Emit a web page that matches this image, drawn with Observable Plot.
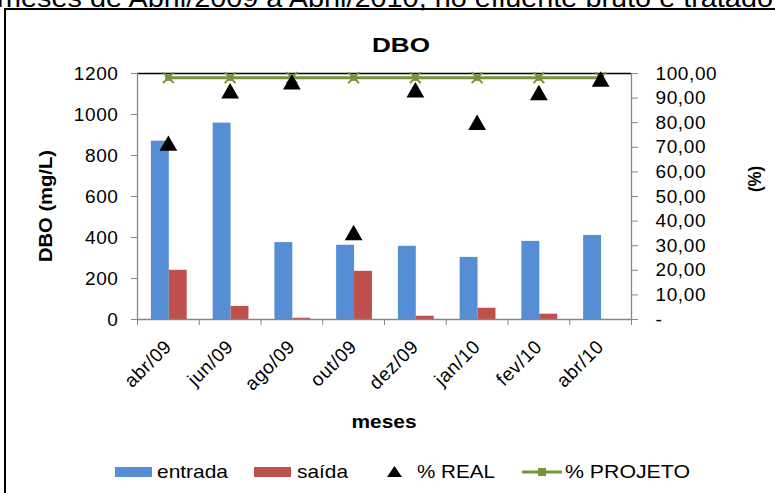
<!DOCTYPE html>
<html>
<head>
<meta charset="utf-8">
<script src="https://cdn.jsdelivr.net/npm/d3@7"></script>
<script src="https://cdn.jsdelivr.net/npm/@observablehq/plot@0.6"></script>
<style>
  body { margin: 0; background: #fff; }
  #chart { position: relative; width: 775px; height: 493px; overflow: hidden; background: #fff;
           font-family: "Liberation Sans", Arial, sans-serif; }
  #frame { position: absolute; left: 4px; top: 8px; width: 900px; height: 700px;
           border: 2px solid #000; box-sizing: border-box; }
  #chart svg { position: absolute; left: 0; top: 0; }
</style>
</head>
<body>
<div id="chart"><div id="frame"></div></div>
<script>
// Monthly BOD (DBO) of raw (entrada) and treated (saída) effluent, mg/L
const meses = ["abr/09", "jun/09", "ago/09", "out/09", "dez/09", "jan/10", "fev/10", "abr/10"];
const entrada = [870, 958, 375, 362, 357, 303, 381, 410];
const saida = [240, 64, 6, 235, 16, 55, 26, 0];
// Removal efficiency, %: measured and design target
const pctReal = [71.7, 93.0, 96.6, 35.4, 93.4, 80.2, 92.3, 97.8];
const pctProjeto = [98.3, 98.3, 98.3, 98.3, 98.3, 98.3, 98.3, 98.3];

// Axis ticks
const dboTicks = [0, 200, 400, 600, 800, 1000, 1200];
const pctTicks = [0, 10, 20, 30, 40, 50, 60, 70, 80, 90, 100];
const pctTickLabels = ["-", "10,00", "20,00", "30,00", "40,00", "50,00", "60,00", "70,00", "80,00", "90,00", "100,00"];

// Secondary axis: 100 % sits level with 1200 mg/L
const PCT = 12;

const BLUE = "#558ed5", RED = "#c0504d", GREEN = "#77933c", AXIS = "#868686";

const rows = meses.map((mes, i) => ({
  i, mes,
  entrada: entrada[i],
  saida: saida[i],
  real: pctReal[i] * PCT,
  projeto: pctProjeto[i] * PCT
}));
const center = d => d.i + 0.5;

const plot = Plot.plot({
  width: 775,
  height: 493,
  marginTop: 73,
  marginRight: 144,
  marginBottom: 174,
  marginLeft: 137,
  x: { type: "linear", domain: [0, meses.length], label: null },
  y: { domain: [0, 1200], label: null },
  style: {
    background: "transparent",
    fontFamily: "'Liberation Sans', Arial, sans-serif",
    fontSize: "19px",
    letterSpacing: "0.6px",
    color: "#000",
    overflow: "visible"
  },
  marks: [
    // grouped bars inside each month slot
    Plot.rectY(rows, { x1: d => d.i + 0.225, x2: d => d.i + 0.515, y: "entrada", fill: BLUE }),
    Plot.rectY(rows, { x1: d => d.i + 0.515, x2: d => d.i + 0.805, y: "saida", fill: RED }),
    // frame lines
    Plot.ruleY([0], { stroke: AXIS, strokeWidth: 1.3 }),
    Plot.ruleY([1200], { stroke: "#000", strokeWidth: 1.3 }),
    Plot.ruleX([0], { stroke: AXIS, strokeWidth: 1.3 }),
    Plot.ruleX([meses.length], { stroke: AXIS, strokeWidth: 1.3 }),
    // left axis (mg/L)
    Plot.axisY({ ticks: dboTicks, tickSize: 6, tickPadding: 13, stroke: AXIS, tickFormat: d => String(d) }),
    // right axis (%)
    Plot.axisY({
      anchor: "right",
      ticks: pctTicks.map(p => p * PCT),
      tickSize: 6,
      tickPadding: 18,
      stroke: AXIS,
      tickFormat: v => pctTickLabels[pctTicks.indexOf(Math.round(v / PCT))]
    }),
    // category boundary ticks
    Plot.axisX({ ticks: d3.range(meses.length + 1), tickSize: 6, stroke: AXIS, tickFormat: () => "" }),
    // month labels
    Plot.axisX({
      ticks: rows.map(center),
      tickSize: 0,
      tickPadding: 24,
      tickRotate: -45,
      tickFormat: v => meses[Math.floor(v)]
    }),
    // design efficiency line with markers
    Plot.lineY(rows, { x: center, y: "projeto", stroke: GREEN, strokeWidth: 3 }),
    Plot.dot(rows, { x: center, y: "projeto", symbol: "square", r: 3.6, fill: GREEN }),
    Plot.dot(rows, { x: center, y: "projeto", symbol: "times", r: 5, stroke: GREEN, strokeWidth: 2 }),
    // measured efficiency
    Plot.dot(rows, { x: center, y: "real", symbol: "triangle", r: 6.6, fill: "#000", dy: 2.6 })
  ]
});
document.getElementById("chart").appendChild(plot);

// Titles, axis names and legend
const ns = "http://www.w3.org/2000/svg";
const over = d3.select("#chart").append("svg")
  .attr("xmlns", ns)
  .attr("width", 775).attr("height", 493)
  .style("font-family", "'Liberation Sans', Arial, sans-serif")
  .style("overflow", "visible");

function label(txt, x, y, opts = {}) {
  const t = over.append("text")
    .attr("x", x).attr("y", y)
    .attr("font-size", opts.size || 19)
    .attr("font-weight", opts.bold ? "bold" : "normal")
    .attr("text-anchor", opts.anchor || "start")
    .text(txt);
  if (opts.len) t.attr("textLength", opts.len).attr("lengthAdjust", "spacingAndGlyphs");
  if (opts.transform) t.attr("transform", opts.transform);
  return t;
}

label("meses de Abril/2009 a Abril/2010, no efluente bruto e tratado", -3, 7, { size: 25, len: 776 });
label("DBO", 401, 52, { size: 19.5, bold: true, anchor: "middle", len: 58 });
label("DBO (mg/L)", 0, 0, { size: 19, bold: true, anchor: "middle", len: 112, transform: "translate(52,206) rotate(-90)" });
label("(%)", 0, 0, { size: 19, bold: true, anchor: "middle", len: 26, transform: "translate(761,179) rotate(-90)" });
label("meses", 384, 428, { size: 19, bold: true, anchor: "middle", len: 65 });

// legend
over.append("rect").attr("x", 115).attr("y", 467).attr("width", 37).attr("height", 10).attr("fill", BLUE);
label("entrada", 157, 478, { size: 18.5, len: 71 });
over.append("rect").attr("x", 254).attr("y", 467).attr("width", 37).attr("height", 10).attr("fill", RED);
label("saída", 297, 478, { size: 18.5, len: 51 });
over.append("path").attr("d", "M387,477L394.5,466L402,477Z").attr("fill", "#000");
label("% REAL", 417, 478, { size: 18.5, len: 78 });
over.append("line").attr("x1", 522).attr("x2", 562).attr("y1", 472).attr("y2", 472)
  .attr("stroke", GREEN).attr("stroke-width", 3);
over.append("rect").attr("x", 538).attr("y", 468).attr("width", 8).attr("height", 8).attr("fill", GREEN);
label("% PROJETO", 565, 478, { size: 18.5, len: 125 });
</script>
</body>
</html>
